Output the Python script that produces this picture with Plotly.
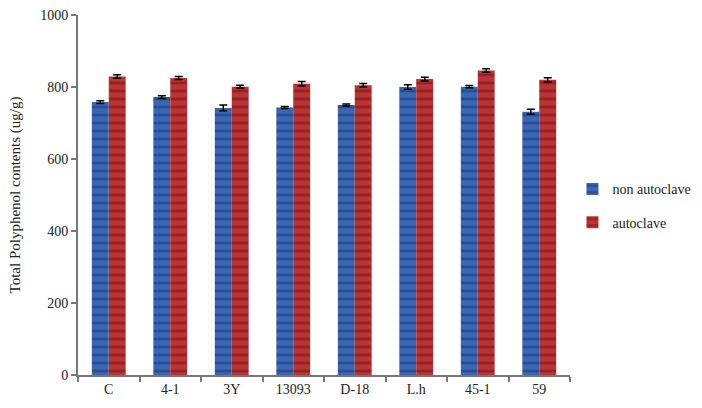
import plotly.graph_objects as go

categories = ["C", "4-1", "3Y", "13093", "D-18", "L.h", "45-1", "59"]
non_autoclave = [758, 772, 742, 743, 750, 800, 801, 731]
autoclave = [829, 825, 801, 809, 805, 822, 846, 820]
err_non = [4, 4, 8, 3, 3, 6, 3, 7]
err_auto = [5, 4, 4, 6, 5, 5, 5, 6]

fig = go.Figure()
fig.add_trace(go.Bar(
    x=categories, y=non_autoclave, name="non autoclave", legendgroup="a",
    marker=dict(color="#3a66b8", line=dict(width=0),
                pattern=dict(shape="-", fgcolor="#1c3568", size=8, solidity=0.35)),
    error_y=dict(type="data", array=err_non, color="black", thickness=1.5, width=4),
))
fig.add_trace(go.Bar(
    x=categories, y=autoclave, name="autoclave", legendgroup="b",
    marker=dict(color="#bb3333", line=dict(width=0),
                pattern=dict(shape="-", fgcolor="#6a1515", size=8, solidity=0.35)),
    error_y=dict(type="data", array=err_auto, color="black", thickness=1.5, width=4),
))

font_family = "Liberation Serif"
fig.update_layout(
    width=702, height=408,
    margin=dict(l=78, r=132, t=15, b=33, autoexpand=False),
    paper_bgcolor="white", plot_bgcolor="white",
    barmode="group", bargap=0.45, bargroupgap=0,
    font=dict(family=font_family, size=14, color="#222"),
    legend=dict(x=1.005, y=0.56, xref="paper", yref="paper", xanchor="left", yanchor="top",
                font=dict(family=font_family, size=14, color="#222"),
                itemwidth=30, tracegroupgap=12, bgcolor="rgba(0,0,0,0)"),
    showlegend=True,
)
fig.update_xaxes(
    showline=True, linecolor="#777", linewidth=2,
    ticks="outside", tickson="boundaries", ticklen=5, tickcolor="#777", tickwidth=2,
    tickfont=dict(family=font_family, size=14, color="#222"),
)
fig.update_yaxes(
    range=[0, 1000], dtick=200, showgrid=False, zeroline=False,
    showline=True, linecolor="#777", linewidth=2,
    ticks="outside", ticklen=5, tickcolor="#777", tickwidth=2,
    tickfont=dict(family=font_family, size=14, color="#222"),
    title=dict(text="Total Polyphenol contents (ug/g)", standoff=16,
               font=dict(family=font_family, size=15, color="#222")),
)
fig.write_html("out.html")
